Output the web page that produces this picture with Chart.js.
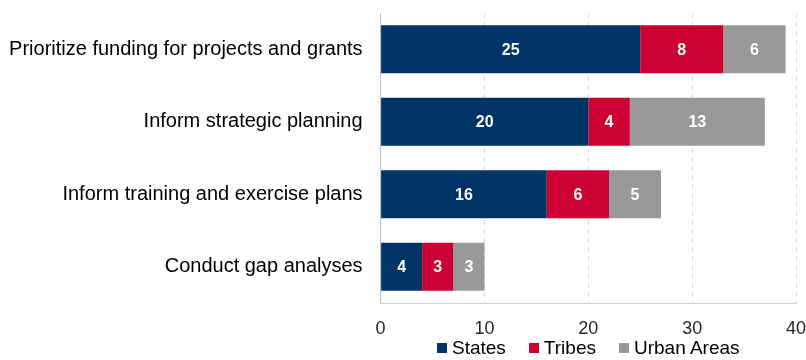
<!DOCTYPE html>
<html>
<head>
<meta charset="utf-8">
<script src="https://cdn.jsdelivr.net/npm/chart.js@4.4.1/dist/chart.umd.min.js"></script>
<style>
  html, body { margin: 0; padding: 0; background: #fff; }
  #wrap { position: relative; width: 806px; height: 360px; }
  #legend {
    position: absolute; top: 338px; height: 20px;
    display: flex; justify-content: center; align-items: center; gap: 23px;
    font-family: 'Liberation Sans', Arial, sans-serif; font-size: 19px; line-height: 20px; color: #000;
  }
  #legend .item { display: flex; align-items: center; white-space: nowrap; }
  #legend .box { width: 10px; height: 10px; margin-right: 5px; }
</style>
</head>
<body>
<div id="wrap"><canvas id="chart"></canvas><div id="legend"></div></div>
<script>
// categories shown on the y axis (top to bottom)
const categories = [
  "Prioritize funding for projects and grants",
  "Inform strategic planning",
  "Inform training and exercise plans",
  "Conduct gap analyses"
];

// series values, same order as categories
const states = [25, 20, 16, 4];
const tribes = [8, 4, 6, 3];
const urbanAreas = [6, 13, 5, 3];

// x axis ticks
const xTicks = [0, 10, 20, 30, 40];

const FONT = "'Liberation Sans', Arial, sans-serif";

// small plugin to write the value in the middle of each bar piece
const barValues = {
  id: "barValues",
  afterDatasetsDraw(chart) {
    const ctx = chart.ctx;
    ctx.save();
    ctx.font = "bold 16px " + FONT;
    ctx.fillStyle = "#ffffff";
    ctx.textAlign = "center";
    ctx.textBaseline = "middle";
    chart.data.datasets.forEach((ds, i) => {
      const meta = chart.getDatasetMeta(i);
      meta.data.forEach((bar, j) => {
        const v = ds.data[j];
        if (!v) return;
        ctx.fillText(String(v), (bar.x + bar.base) / 2, bar.y + 1);
      });
    });
    ctx.restore();
  }
};

// html legend built from the chart's own legend items, centred under the plot area
const htmlLegend = {
  id: "htmlLegend",
  afterUpdate(chart) {
    const box = document.getElementById("legend");
    box.innerHTML = "";
    box.style.left = chart.chartArea.left + "px";
    box.style.width = (chart.chartArea.right - chart.chartArea.left) + "px";
    const items = chart.options.plugins.legend.labels.generateLabels(chart);
    items.forEach(it => {
      const el = document.createElement("span");
      el.className = "item";
      const sq = document.createElement("span");
      sq.className = "box";
      sq.style.background = it.fillStyle;
      el.appendChild(sq);
      el.appendChild(document.createTextNode(it.text));
      box.appendChild(el);
    });
  }
};

const ctx = document.getElementById("chart");

new Chart(ctx, {
  type: "bar",
  data: {
    labels: categories,
    datasets: [
      { label: "States", data: states, backgroundColor: "#003366" },
      { label: "Tribes", data: tribes, backgroundColor: "#cc0033" },
      { label: "Urban Areas", data: urbanAreas, backgroundColor: "#999999" }
    ]
  },
  options: {
    indexAxis: "y",
    responsive: true,
    maintainAspectRatio: false,
    animation: false,
    devicePixelRatio: 1,
    layout: { padding: { top: 13, right: 10, left: 0, bottom: 24 } },
    datasets: {
      bar: { barPercentage: 0.66, categoryPercentage: 1.0, borderWidth: 0 }
    },
    scales: {
      x: {
        stacked: true,
        min: 0,
        max: 40,
        afterBuildTicks(axis) {
          axis.ticks = xTicks.map(v => ({ value: v }));
        },
        afterFit(axis) {
          axis.height = 33;
          axis.paddingLeft = 0;
          axis.paddingRight = 0;
        },
        grid: {
          color: "#d9d9d9",
          drawTicks: false,
          tickLength: 0
        },
        border: { display: true, color: "#d0d0d0", width: 1, dash: [5, 4] },
        ticks: {
          padding: 15,
          color: "#262626",
          font: { family: FONT, size: 18 }
        }
      },
      y: {
        stacked: true,
        afterFit(axis) {
          axis.width = 380.6;
          axis.paddingTop = 0;
          axis.paddingBottom = 0;
        },
        grid: { display: false, drawTicks: false },
        border: { display: true, color: "#bfbfbf", width: 1 },
        ticks: {
          padding: 18,
          color: "#000000",
          font: { family: FONT, size: 20 }
        }
      }
    },
    plugins: {
      legend: { display: false },
      tooltip: { enabled: false }
    }
  },
  plugins: [barValues, htmlLegend]
});
</script>
</body>
</html>
